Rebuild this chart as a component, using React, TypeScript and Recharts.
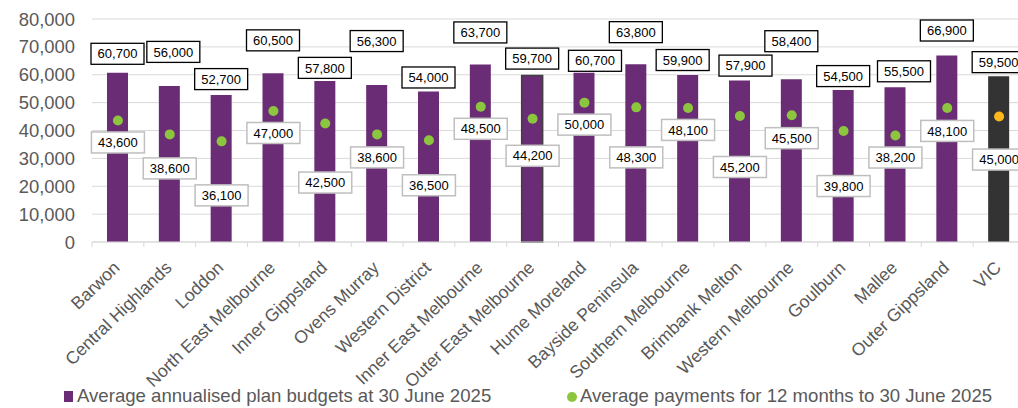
import React from 'react';
import { ComposedChart, Bar, Line, XAxis, YAxis, CartesianGrid, Cell, LabelList } from 'recharts';

// ---- data ----
const categories = [
  'Barwon', 'Central Highlands', 'Loddon', 'North East Melbourne', 'Inner Gippsland',
  'Ovens Murray', 'Western District', 'Inner East Melbourne', 'Outer East Melbourne',
  'Hume Moreland', 'Bayside Peninsula', 'Southern Melbourne', 'Brimbank Melton',
  'Western Melbourne', 'Goulburn', 'Mallee', 'Outer Gippsland', 'VIC',
];
const budgets = [60700, 56000, 52700, 60500, 57800, 56300, 54000, 63700, 59700, 60700, 63800, 59900, 57900, 58400, 54500, 55500, 66900, 59500];
const payments = [43600, 38600, 36100, 47000, 42500, 38600, 36500, 48500, 44200, 50000, 48300, 48100, 45200, 45500, 39800, 38200, 48100, 45000];
const yTicks = [0, 10000, 20000, 30000, 40000, 50000, 60000, 70000, 80000];

const budgetLegend = 'Average annualised plan budgets at 30 June 2025';
const paymentLegend = 'Average payments for 12 months to 30 June 2025';

// ---- label placement (manual data-label nudges, px relative to the mark) ----
const budgetLabelLift = [19, 34, 16, 33, 13, 44, 14, 32, 17, 12, 32, 15, 15, 38, 14, 16, 25, 14];
const budgetLabelShift = [0, 4, 0, 0, 0, 0, 0, 0, 0, 11, 0, -5, 6, 0, 0, 9, 0, 0];
const paymentLabelDrop = [22, 34, 54, 22, 59, 23, 45, 22, 37, 22, 50, 22, 51, 23, 55, 22, 23, 43];

// ---- styles ----
const PURPLE = '#6A2C75';
const DARK = '#333333';
const GREEN = '#8CC63F';
const ORANGE = '#FFB81C';
const GRID = '#D9D9D9';
const TEXT_GRAY = '#595959';
const FONT = '"Liberation Sans", Arial, sans-serif';
const totalCategory = 'VIC';
const outlinedCategory = 'Outer East Melbourne';

const CHART_W = 1025;
const CHART_H = 408;
const Y_AXIS_W = 92;
const BAND = (CHART_W - Y_AXIS_W) / categories.length;

const data = categories.map((name, i) => ({ name, budget: budgets[i], payment: payments[i] }));

const fmt = (v: number) => Number(v).toLocaleString('en-US');

const BOX_W = 53;
const BOX_H = 21;

const BudgetLabel = (props: any) => {
  const { x, y, width, value, index } = props;
  const cx = x + width / 2 + budgetLabelShift[index];
  const cy = y - budgetLabelLift[index];
  return (
    <g>
      <rect x={cx - BOX_W / 2} y={cy - BOX_H / 2} width={BOX_W} height={BOX_H} fill="#fff" stroke="#000" strokeWidth={1.3} />
      <text x={cx} y={cy} dy="0.36em" textAnchor="middle" fontFamily={FONT} fontSize={13} fill="#000">{fmt(value)}</text>
    </g>
  );
};

const PaymentLabel = (props: any) => {
  const { x, y, value, index } = props;
  const cx = x;
  const cy = y + paymentLabelDrop[index];
  return (
    <g>
      <rect x={cx - BOX_W / 2} y={cy - BOX_H / 2} width={BOX_W} height={BOX_H} fill="#fff" stroke="#BFBFBF" strokeWidth={1.5} />
      <text x={cx} y={cy} dy="0.36em" textAnchor="middle" fontFamily={FONT} fontSize={13} fill="#000">{fmt(value)}</text>
    </g>
  );
};

const PaymentDot = (props: any) => {
  const { cx, cy, payload } = props;
  if (cx == null || cy == null) return null;
  return <circle cx={cx} cy={cy} r={5} fill={payload.name === totalCategory ? ORANGE : GREEN} stroke="none" />;
};

const CategoryTick = (props: any) => {
  const { x, y, payload } = props;
  const tx = x + 3;
  const ty = y + 27;
  return (
    <g>
      <line x1={x - BAND / 2} x2={x - BAND / 2} y1={y} y2={y + 5} stroke={GRID} strokeWidth={1} />
      <text x={tx} y={ty} transform={`rotate(-44, ${tx}, ${ty})`} textAnchor="end" fontFamily={FONT} fontSize={17.6} fill={TEXT_GRAY}>
        {payload.value}
      </text>
    </g>
  );
};

export default function App() {
  return (
    <div style={{ position: 'absolute', left: 0, top: 0, width: 1018, height: 408, overflow: 'hidden', background: '#fff' }}>
      <ComposedChart width={CHART_W} height={CHART_H} data={data} margin={{ top: 19, right: 0, bottom: 0, left: 0 }} barCategoryGap={0}>
        <CartesianGrid vertical={false} stroke={GRID} strokeWidth={1} />
        <XAxis
          dataKey="name"
          type="category"
          interval={0}
          height={166}
          axisLine={{ stroke: GRID, strokeWidth: 1 }}
          tickLine={false}
          tickSize={0}
          tickMargin={0}
          tick={<CategoryTick />}
        />
        <YAxis
          domain={[0, 80000]}
          ticks={yTicks}
          width={Y_AXIS_W}
          axisLine={false}
          tickLine={false}
          tickSize={0}
          tickMargin={17}
          tickFormatter={fmt}
          tick={{ fontFamily: FONT, fontSize: 18.4, fill: TEXT_GRAY }}
          interval={0}
        />
        <Bar dataKey="budget" barSize={21} isAnimationActive={false}>
          {data.map((d) => (
            <Cell
              key={d.name}
              fill={d.name === totalCategory ? DARK : PURPLE}
              stroke={d.name === outlinedCategory ? '#404040' : 'none'}
              strokeWidth={d.name === outlinedCategory ? 1.5 : 0}
            />
          ))}
          <LabelList dataKey="budget" content={<BudgetLabel />} />
        </Bar>
        <Line
          dataKey="payment"
          stroke="none"
          dot={<PaymentDot />}
          activeDot={false}
          isAnimationActive={false}
        >
          <LabelList dataKey="payment" content={<PaymentLabel />} />
        </Line>
      </ComposedChart>
      <div style={{ position: 'absolute', left: 64, top: 391, width: 9, height: 11, background: PURPLE }} />
      <div style={{ position: 'absolute', left: 77, top: 385, fontFamily: FONT, fontSize: 18.6, lineHeight: '22px', color: TEXT_GRAY, whiteSpace: 'nowrap' }}>
        {budgetLegend}
      </div>
      <div style={{ position: 'absolute', left: 567, top: 392, width: 10, height: 10, borderRadius: '50%', background: GREEN }} />
      <div style={{ position: 'absolute', left: 580, top: 385, fontFamily: FONT, fontSize: 18.6, lineHeight: '22px', color: TEXT_GRAY, whiteSpace: 'nowrap' }}>
        {paymentLegend}
      </div>
    </div>
  );
}
